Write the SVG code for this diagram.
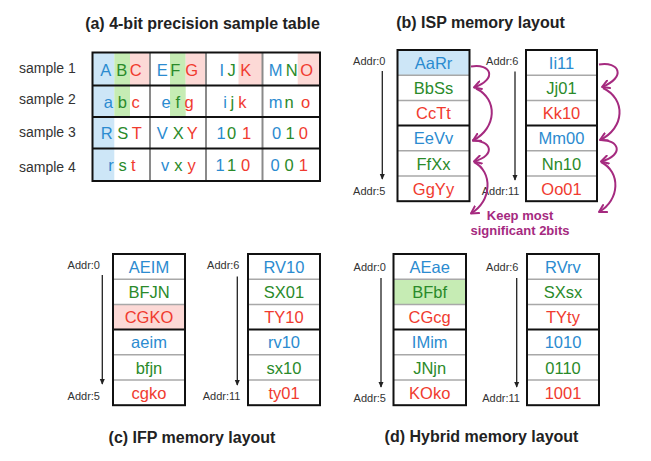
<svg xmlns="http://www.w3.org/2000/svg" width="651" height="461" viewBox="0 0 651 461">
<defs>
<style>
text{font-family:"Liberation Sans",Arial,sans-serif}
.title{font-weight:bold;font-size:16px;fill:#222;text-anchor:middle}
.cell{font-size:16.5px;text-anchor:middle}
.tc{font-size:16.5px;text-anchor:middle}
.lbl{font-size:14px;fill:#333}
.addr{font-size:11px;fill:#333;text-anchor:end}
.b{fill:#2b8bd0}.g{fill:#2a8a2a}.r{fill:#f03b2f}
.box{fill:none;stroke:#111;stroke-width:2}
.thin{stroke:#a8a8a8;stroke-width:1.5}
.thick{stroke:#111;stroke-width:2}
.fb{fill:#cde6f7}.fg{fill:#c6ecb4}.fr{fill:#fcd9d6}
.keep{font-size:13px;font-weight:bold;fill:#a52a7f;text-anchor:middle}
.addrline{stroke:#222;stroke-width:1.3;fill:none}
.curve{stroke:#a52a7f;stroke-width:2;fill:none}
</style>
<marker id="ah" viewBox="0 0 8 8" refX="7" refY="4" markerWidth="6" markerHeight="6" orient="auto" markerUnits="userSpaceOnUse">
<path d="M0,0.5 L8,4 L0,7.5 Z" fill="#222"/>
</marker>
<marker id="mh" viewBox="0 0 10 10" refX="8" refY="5" markerWidth="10" markerHeight="10" orient="auto" markerUnits="userSpaceOnUse">
<path d="M1,1 L8,5 L1,9" fill="none" stroke="#a52a7f" stroke-width="2" stroke-linecap="round" stroke-linejoin="round"/>
</marker>
</defs>
<rect width="651" height="461" fill="#fff"/>

<!-- Titles -->
<text class="title" x="202.5" y="28.5">(a) 4-bit precision sample table</text>
<text class="title" x="480.5" y="27.5">(b) ISP memory layout</text>
<text class="title" x="192" y="443">(c) IFP memory layout</text>
<text class="title" x="481.5" y="441.5">(d) Hybrid memory layout</text>

<!-- (a) sample table -->
<g id="sample-table">
<rect class="fb" x="92.5" y="52.5" width="21.8" height="128.5"/>
<rect class="fg" x="114.3" y="52.5" width="15.7" height="64.5"/>
<rect class="fr" x="130" y="52.5" width="19.5" height="33"/>
<rect class="fg" x="170" y="52.5" width="15.7" height="64.5"/>
<rect class="fr" x="185.7" y="52.5" width="20.3" height="33"/>
<rect class="fr" x="238.5" y="52.5" width="24" height="33"/>
<rect class="fr" x="297.7" y="52.5" width="22.3" height="33"/>
<line class="thin" x1="150" y1="52.5" x2="150" y2="181" style="stroke:#8a8a8a;stroke-width:2"/>
<line class="thin" x1="206" y1="52.5" x2="206" y2="181" style="stroke:#8a8a8a;stroke-width:2"/>
<line class="thin" x1="262.5" y1="52.5" x2="262.5" y2="181" style="stroke:#8a8a8a;stroke-width:2"/>
<line class="thick" x1="92.5" y1="85.5" x2="320" y2="85.5"/>
<line class="thick" x1="92.5" y1="117" x2="320" y2="117"/>
<line class="thick" x1="92.5" y1="148.5" x2="320" y2="148.5"/>
<rect class="box" x="92.5" y="52.5" width="227.5" height="128.5"/>
<text class="lbl" x="19" y="73">sample 1</text>
<text class="lbl" x="19" y="104">sample 2</text>
<text class="lbl" x="19" y="137">sample 3</text>
<text class="lbl" x="19" y="171.5">sample 4</text>
<text class="tc" y="76"><tspan class="b" x="105.7">A</tspan><tspan class="g" x="121.7">B</tspan><tspan class="r" x="135.7">C</tspan><tspan class="b" x="162.3">E</tspan><tspan class="g" x="175.3">F</tspan><tspan class="r" x="191.7">G</tspan><tspan class="b" x="221.7">I</tspan><tspan class="g" x="231.7">J</tspan><tspan class="r" x="245.7">K</tspan><tspan class="b" x="275.7">M</tspan><tspan class="g" x="291.7">N</tspan><tspan class="r" x="306.7">O</tspan></text>
<text class="tc" y="107.7"><tspan class="b" x="108.3">a</tspan><tspan class="g" x="122.3">b</tspan><tspan class="r" x="135.7">c</tspan><tspan class="b" x="166">e</tspan><tspan class="g" x="177.7">f</tspan><tspan class="r" x="189">g</tspan><tspan class="b" x="225">i</tspan><tspan class="g" x="232.3">j</tspan><tspan class="r" x="242.3">k</tspan><tspan class="b" x="275.7">m</tspan><tspan class="g" x="289">n</tspan><tspan class="r" x="305.7">o</tspan></text>
<text class="tc" y="139.3"><tspan class="b" x="106.7">R</tspan><tspan class="g" x="122.7">S</tspan><tspan class="r" x="136.7">T</tspan><tspan class="b" x="162.3">V</tspan><tspan class="g" x="178.3">X</tspan><tspan class="r" x="192.3">Y</tspan><tspan class="b" x="221">1</tspan><tspan class="g" x="231.7">0</tspan><tspan class="r" x="246.7">1</tspan><tspan class="b" x="276.7">0</tspan><tspan class="g" x="290">1</tspan><tspan class="r" x="303.3">0</tspan></text>
<text class="tc" y="171"><tspan class="b" x="111">r</tspan><tspan class="g" x="122.7">s</tspan><tspan class="r" x="133.3">t</tspan><tspan class="b" x="165">v</tspan><tspan class="g" x="178.3">x</tspan><tspan class="r" x="191.7">y</tspan><tspan class="b" x="220">1</tspan><tspan class="g" x="231.7">1</tspan><tspan class="r" x="245.7">0</tspan><tspan class="b" x="275">0</tspan><tspan class="g" x="289">0</tspan><tspan class="r" x="303.3">1</tspan></text>
</g>

<!-- (b) ISP left -->
<g id="isp-left">
<rect class="fb" x="397.5" y="50" width="72" height="25.2"/>
<line class="thin" x1="397.5" y1="75.2" x2="469.5" y2="75.2"/>
<line class="thin" x1="397.5" y1="100.4" x2="469.5" y2="100.4"/>
<line class="thick" x1="397.5" y1="125.6" x2="469.5" y2="125.6"/>
<line class="thin" x1="397.5" y1="150.8" x2="469.5" y2="150.8"/>
<line class="thin" x1="397.5" y1="176" x2="469.5" y2="176"/>
<rect class="box" x="397.5" y="50" width="72" height="151.2"/>
<text class="cell b" x="433.5" y="68.8">AaRr</text>
<text class="cell g" x="433.5" y="94">BbSs</text>
<text class="cell r" x="433.5" y="119.2">CcTt</text>
<text class="cell b" x="433.5" y="144.4">EeVv</text>
<text class="cell g" x="433.5" y="169.6">FfXx</text>
<text class="cell r" x="433.5" y="194.8">GgYy</text>
<text class="addr" x="385.5" y="65">Addr:0</text>
<text class="addr" x="385.5" y="194.5">Addr:5</text>
</g>

<!-- (b) ISP right -->
<g id="isp-right">
<line class="thin" x1="526" y1="75.2" x2="597" y2="75.2"/>
<line class="thin" x1="526" y1="100.4" x2="597" y2="100.4"/>
<line class="thick" x1="526" y1="125.6" x2="597" y2="125.6"/>
<line class="thin" x1="526" y1="150.8" x2="597" y2="150.8"/>
<line class="thin" x1="526" y1="176" x2="597" y2="176"/>
<rect class="box" x="526" y="50" width="71" height="151.2"/>
<text class="cell b" x="561.5" y="68.8">Ii11</text>
<text class="cell g" x="561.5" y="94">Jj01</text>
<text class="cell r" x="561.5" y="119.2">Kk10</text>
<text class="cell b" x="561.5" y="144.4">Mm00</text>
<text class="cell g" x="561.5" y="169.6">Nn10</text>
<text class="cell r" x="561.5" y="194.8">Oo01</text>
<text class="addr" x="518.5" y="65">Addr:6</text>
<text class="addr" x="519.5" y="194.5">Addr:11</text>
</g>

<g id="keep-note">
<text class="keep" x="520" y="219.5">Keep most</text>
<text class="keep" x="520" y="234.5">significant 2bits</text>
</g>

<!-- (c) IFP left -->
<g id="ifp-left">
<rect class="fr" x="113" y="304.4" width="72" height="25.2"/>
<line class="thin" x1="113" y1="279.2" x2="185" y2="279.2"/>
<line class="thin" x1="113" y1="304.4" x2="185" y2="304.4"/>
<line class="thick" x1="113" y1="329.6" x2="185" y2="329.6"/>
<line class="thin" x1="113" y1="354.8" x2="185" y2="354.8"/>
<line class="thin" x1="113" y1="380" x2="185" y2="380"/>
<rect class="box" x="113" y="254" width="72" height="151.2"/>
<text class="cell b" x="149" y="272.8">AEIM</text>
<text class="cell g" x="149" y="298">BFJN</text>
<text class="cell r" x="149" y="323.2">CGKO</text>
<text class="cell b" x="149" y="348.4">aeim</text>
<text class="cell g" x="149" y="373.6">bfjn</text>
<text class="cell r" x="149" y="398.8">cgko</text>
<text class="addr" x="100" y="269">Addr:0</text>
<text class="addr" x="100" y="399.5">Addr:5</text>
</g>

<!-- (c) IFP right -->
<g id="ifp-right">
<line class="thin" x1="248" y1="279.2" x2="320" y2="279.2"/>
<line class="thin" x1="248" y1="304.4" x2="320" y2="304.4"/>
<line class="thick" x1="248" y1="329.6" x2="320" y2="329.6"/>
<line class="thin" x1="248" y1="354.8" x2="320" y2="354.8"/>
<line class="thin" x1="248" y1="380" x2="320" y2="380"/>
<rect class="box" x="248" y="254" width="72" height="151.2"/>
<text class="cell b" x="284" y="272.8">RV10</text>
<text class="cell g" x="284" y="298">SX01</text>
<text class="cell r" x="284" y="323.2">TY10</text>
<text class="cell b" x="284" y="348.4">rv10</text>
<text class="cell g" x="284" y="373.6">sx10</text>
<text class="cell r" x="284" y="398.8">ty01</text>
<text class="addr" x="239.5" y="269">Addr:6</text>
<text class="addr" x="240.5" y="399.5">Addr:11</text>
</g>

<!-- (d) Hybrid left -->
<g id="hybrid-left">
<rect class="fg" x="393.5" y="279.2" width="72.5" height="25.2"/>
<line class="thin" x1="393.5" y1="279.2" x2="466" y2="279.2"/>
<line class="thin" x1="393.5" y1="304.4" x2="466" y2="304.4"/>
<line class="thick" x1="393.5" y1="329.6" x2="466" y2="329.6"/>
<line class="thin" x1="393.5" y1="354.8" x2="466" y2="354.8"/>
<line class="thin" x1="393.5" y1="380" x2="466" y2="380"/>
<rect class="box" x="393.5" y="254" width="72.5" height="151.2"/>
<text class="cell b" x="429.7" y="272.8">AEae</text>
<text class="cell g" x="429.7" y="298">BFbf</text>
<text class="cell r" x="429.7" y="323.2">CGcg</text>
<text class="cell b" x="429.7" y="348.4">IMim</text>
<text class="cell g" x="429.7" y="373.6">JNjn</text>
<text class="cell r" x="429.7" y="398.8">KOko</text>
<text class="addr" x="386" y="271">Addr:0</text>
<text class="addr" x="386" y="401.5">Addr:5</text>
</g>

<!-- (d) Hybrid right -->
<g id="hybrid-right">
<line class="thin" x1="527" y1="279.2" x2="599" y2="279.2"/>
<line class="thin" x1="527" y1="304.4" x2="599" y2="304.4"/>
<line class="thick" x1="527" y1="329.6" x2="599" y2="329.6"/>
<line class="thin" x1="527" y1="354.8" x2="599" y2="354.8"/>
<line class="thin" x1="527" y1="380" x2="599" y2="380"/>
<rect class="box" x="527" y="254" width="72" height="151.2"/>
<text class="cell b" x="563" y="272.8">RVrv</text>
<text class="cell g" x="563" y="298">SXsx</text>
<text class="cell r" x="563" y="323.2">TYty</text>
<text class="cell b" x="563" y="348.4">1010</text>
<text class="cell g" x="563" y="373.6">0110</text>
<text class="cell r" x="563" y="398.8">1001</text>
<text class="addr" x="518.5" y="271">Addr:6</text>
<text class="addr" x="520" y="401.5">Addr:11</text>
</g>

<!-- Connectors -->
<g id="connectors">
<line class="addrline" x1="382.3" y1="71" x2="382.3" y2="179" marker-end="url(#ah)"/>
<line class="addrline" x1="515" y1="71.5" x2="515" y2="180" marker-end="url(#ah)"/>
<line class="addrline" x1="102.3" y1="275" x2="102.3" y2="384" marker-end="url(#ah)"/>
<line class="addrline" x1="237.3" y1="276.5" x2="237.3" y2="385" marker-end="url(#ah)"/>
<line class="addrline" x1="381" y1="278" x2="381" y2="387" marker-end="url(#ah)"/>
<line class="addrline" x1="516.7" y1="278" x2="516.7" y2="387" marker-end="url(#ah)"/>

<path class="curve" d="M471,66.5 C491,63 498,79 474,87.5" marker-end="url(#mh)"/>
<path class="curve" d="M476,88.5 C498,99 497,128 473,140.5" marker-end="url(#mh)"/>
<path class="curve" d="M472,140.5 C491,140 497,155 474,161.5" marker-end="url(#mh)"/>
<path class="curve" d="M474,162 C493,172 492,200 471,213.5" marker-end="url(#mh)"/>

<path class="curve" d="M599,64.5 C619,61 627,77 602,87" marker-end="url(#mh)"/>
<path class="curve" d="M603,88 C626,99 625,128 600,140" marker-end="url(#mh)"/>
<path class="curve" d="M600,140 C619,139 625,155 601,161.5" marker-end="url(#mh)"/>
<path class="curve" d="M601,162 C621,172 620,200 599,212" marker-end="url(#mh)"/>
</g>
</svg>
